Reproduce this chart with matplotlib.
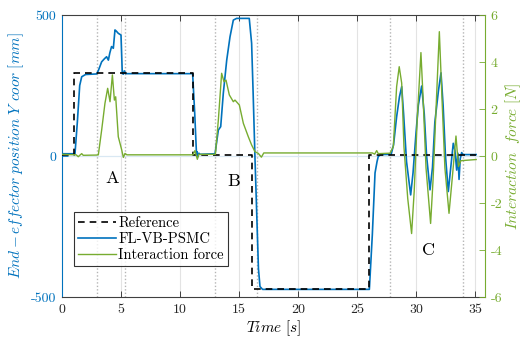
import matplotlib
matplotlib.use("Agg")
import matplotlib.pyplot as plt
from matplotlib.lines import Line2D

plt.rcParams['font.family'] = ['cmr10', 'DejaVu Serif']
plt.rcParams['mathtext.fontset'] = 'cm'
plt.rcParams['axes.unicode_minus'] = False

BLUE = '#0072BD'
GREEN = '#77AC30'

# Reference trajectory (step profile) [mm]
ref_t = [0, 1.04, 1.04, 11.13, 11.13, 16.07, 16.07, 26.05, 26.05, 35.1]
ref_y = [5, 5, 293, 293, 5, 5, -473, -473, 5, 5]

# FL-VB-PSMC end-effector position [mm]
pos_t = [0, 1.1, 1.3, 1.5, 1.67, 2.0, 2.94, 3.1, 3.36, 3.6, 3.78, 3.93, 4.05, 4.2, 4.35,
         4.49, 4.6, 4.77, 5.0, 5.11, 5.2, 5.28, 5.4, 11.07, 11.25, 11.4, 11.45, 11.5, 11.6,
         11.7, 12.97, 13.25, 13.45, 13.67, 13.96, 14.24, 14.52, 14.8, 15.87, 16.07, 16.2,
         16.36, 16.5, 16.65, 16.78, 17.0, 26.05, 26.3, 26.53, 26.7, 26.8, 27.0, 27.9, 28.1,
         28.36, 28.6, 28.79, 28.95, 29.2, 29.55, 29.75, 30.0, 30.2, 30.48, 30.7, 30.9, 31.19,
         31.4, 31.6, 31.9, 32.12, 32.3, 32.5, 32.74, 32.95, 33.16, 33.3, 33.45, 33.55, 33.65,
         33.75, 33.87, 34.0, 35.1]
pos_y = [8, 8, 120, 250, 281, 289, 291, 305, 334, 345, 352, 340, 365, 388, 382,
         447, 443, 435, 429, 293, 290, 302, 292, 292, 150, 5, 15, -3, 10,
         6, 8, 92, 104, 222, 340, 423, 482, 488, 488, 400, 222,
         -14, -200, -400, -463, -473, -473, -280, -60, -20, -2, 5, 6, 40,
         139, 210, 246, 150, -20, -138, -60, 80, 180, 248, 150, 0, -120,
         -40, 120, 230, 295, 180, 0, -126, -40, 45, 20, -50, 10, -83,
         -10, 12, 5, 5]

# Interaction force [N]
frc_t = [0, 1.2, 1.38, 1.55, 1.67, 1.8, 2.94, 3.08, 3.36, 3.64, 3.87, 4.07, 4.27, 4.44,
         4.55, 4.77, 5.06, 5.2, 5.34, 5.5, 11.1, 11.27, 11.47, 11.6, 13.0, 13.25, 13.53,
         13.73, 13.9, 14.18, 14.52, 14.66, 15.03, 15.37, 15.79, 16.07, 16.36, 16.64, 16.9,
         17.1, 26.3, 26.5, 26.67, 26.8, 27.8, 28.08, 28.2, 28.36, 28.58, 28.79, 28.98, 29.3,
         29.63, 29.85, 30.1, 30.42, 30.6, 30.85, 31.24, 31.45, 31.7, 31.98, 32.2, 32.45, 32.8,
         33.1, 33.39, 33.6, 33.8, 35.1]
frc_y = [0.07, 0.05, -0.03, 0.05, 0.1, 0.03, 0.04, 0.05, 1.1, 2.24, 2.88, 2.31, 3.45, 2.38,
         2.52, 0.82, 0.26, -0.06, 0.11, 0.05, 0.05, 0.23, -0.14, 0.07, 0.07, 1.53, 3.52,
         3.16, 3.23, 2.6, 2.31, 2.38, 2.17, 1.39, 0.82, 0.47, 0.18, 0.11, -0.05,
         0.13, 0.13, 0.08, 0.23, 0.1, 0.12, 0.4, 1.5, 2.95, 3.8, 3.1, 0.4, -1.8,
         -3.3, -1.5, 1.5, 4.4, 2.5, -0.5, -2.87, -1.0, 2.0, 5.29, 2.5, -0.5, -2.44,
         -0.8, 0.85, -0.45, -0.2, -0.15]

phase_lines = [2.94, 5.34, 12.95, 16.5, 27.8, 33.95]
phase_labels = ['A', 'B', 'C']
phase_label_t = [4.21, 14.58, 31.04]
phase_label_y = [-78, -91, -336]

xticks = [0, 5, 10, 15, 20, 25, 30, 35]
left_ticks = [-500, 0, 500]
right_ticks = [-6, -4, -2, 0, 2, 4, 6]

fig = plt.figure(figsize=(5.24, 3.46), dpi=100)
ax = fig.add_axes([62/524, 1-297/346, (485-62)/524, (297-15)/346])
ax2 = ax.twinx()

ax.set_xlim(0, 35.85)
ax.set_ylim(-500, 500)
ax2.set_ylim(-6, 6)

for x in xticks[1:]:
    ax.axvline(x, color='#e3e3e3', lw=0.8, zorder=0)
ax.axhline(0, color='#d9e8f3', lw=0.9, zorder=0)
for x in phase_lines:
    ax.axvline(x, color='#b5b5b5', lw=1.0, ls=(0, (1, 1.5)), zorder=0.5)

ax.plot(ref_t, ref_y, color='black', ls=(0, (4, 3)), lw=1.2, zorder=3)
ax.plot(pos_t, pos_y, color=BLUE, lw=1.2, zorder=2)
ax2.plot(frc_t, frc_y, color=GREEN, lw=1.0)

for lab, tx, ty in zip(phase_labels, phase_label_t, phase_label_y):
    ax.text(tx, ty, lab, fontsize=13, ha='center', va='center')

ax.set_xticks(xticks)
ax.set_xticklabels([str(v) for v in xticks])
ax.set_yticks(left_ticks)
ax.set_yticklabels([str(v) for v in left_ticks])
ax2.set_yticks(right_ticks)
ax2.set_yticklabels([str(v) for v in right_ticks])

ax.tick_params(axis='x', direction='in', length=4, width=0.6, top=True, labelsize=10,
               colors='#262626', pad=5)
ax.tick_params(axis='y', direction='in', length=4, width=0.6, labelsize=10,
               colors=BLUE, pad=4)
ax2.tick_params(axis='y', direction='in', length=4, width=0.6, labelsize=10,
                colors=GREEN, pad=4)

ax.spines['left'].set_color(BLUE)
ax.spines['right'].set_visible(False)
ax.spines['top'].set_color('#404040')
ax.spines['bottom'].set_color('#404040')
ax2.spines['right'].set_color(GREEN)
ax2.spines['left'].set_visible(False)
ax2.spines['top'].set_visible(False)
ax2.spines['bottom'].set_visible(False)
for s in ['left', 'top', 'bottom']:
    ax.spines[s].set_linewidth(0.8)
ax2.spines['right'].set_linewidth(0.8)

ax.set_ylabel(r'$End - effector\ position\ Y\ coor\ [mm]$', color=BLUE, fontsize=11, labelpad=4)
ax2.set_ylabel(r'$Interaction\ \ force\ [N]$', color=GREEN, fontsize=11, labelpad=1)
ax.set_xlabel(r'$Time\ [s]$', fontsize=11, labelpad=2)

handles = [Line2D([], [], color='black', ls=(0, (4, 3)), lw=1.2),
           Line2D([], [], color=BLUE, lw=1.2),
           Line2D([], [], color=GREEN, lw=1.0)]
names = ['Reference', 'FL-VB-PSMC', 'Interaction force']
leg = ax2.legend(handles, names, loc='upper left', bbox_to_anchor=(74/524, 1-212/346),
                 bbox_transform=fig.transFigure, fontsize=10.5, frameon=True, fancybox=False,
                 handlelength=2.6, handletextpad=0.15, borderpad=0.3, labelspacing=0.15,
                 borderaxespad=0)
leg.get_frame().set_edgecolor('black')
leg.get_frame().set_linewidth(0.8)

fig.savefig('out.png', dpi=100)
